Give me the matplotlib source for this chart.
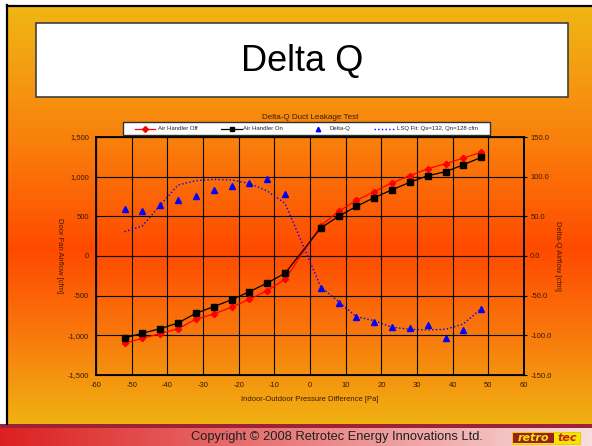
import numpy as np
import matplotlib
matplotlib.use("Agg")
import matplotlib.pyplot as plt
from matplotlib.lines import Line2D
from matplotlib.patches import Rectangle
from matplotlib.ticker import FuncFormatter, MultipleLocator

plt.rcParams["font.family"] = ["Liberation Sans", "DejaVu Sans"]
plt.rcParams["axes.unicode_minus"] = False

# pressure points [Pa]
pressure = [-52, -47, -42, -37, -32, -27, -22, -17, -12, -7,
            3, 8, 13, 18, 23, 28, 33, 38, 43, 48]
# door fan airflow [cfm]
ah_off = [-1100, -1037, -979, -916, -798, -731, -646, -546, -437, -294,
          382, 563, 702, 810, 924, 1012, 1100, 1163, 1235, 1307]
ah_on = [-1033, -974, -916, -844, -722, -639, -551, -450, -340, -218,
         353, 500, 626, 735, 835, 929, 1012, 1062, 1150, 1244]
# delta-Q airflow [cfm], right axis
delta_q = [59.6, 56.7, 64.6, 70.9, 75.6, 83.5, 88.6, 92.4, 97.4, 78.5,
           -40.7, -59.2, -76.9, -83.2, -89.8, -90.7, -86.6, -102.9, -93.6, -66.4]
lsq_fit = [30.6, 37.8, 64.0, 89.5, 94.9, 96.6, 95.8, 91.6, 81.9, 66.4,
           -38.7, -57.6, -76.5, -81.5, -89.8, -92.4, -93.2, -92.4, -85.7, -66.4]

labels = ["Air Handler Off", "Air Handler On", "Delta-Q",
          "LSQ Fit: Qs=132, Qn=128 cfm"]

W, H = 592, 446
fig = plt.figure(figsize=(W / 100, H / 100), dpi=100)

# slide background
bg = fig.add_axes([0, 0, 1, 1])
bg.set_xlim(0, W)
bg.set_ylim(H, 0)
bg.axis("off")

rows = np.arange(H)
stops_y = [8, 140, 250, 330, 420]
stops_c = np.array([[240, 182, 20], [249, 128, 12], [255, 74, 0],
                    [249, 118, 12], [240, 176, 18]]) / 255
img = np.zeros((H, W, 3))
for k in range(3):
    img[:, :, k] = np.interp(rows, stops_y, stops_c[:, k])[:, None]
cols = np.arange(W)
band_l = np.array([220, 32, 32]) / 255
band_r = np.array([248, 222, 222]) / 255
for k in range(3):
    img[428:, :, k] = np.interp(cols, [0, W], [band_l[k], band_r[k]])[None, :]
img[424:428, :, :] = np.array([158, 34, 54]) / 255
img[:5, :, :] = 1
img[:424, :6, :] = 1
bg.imshow(img, extent=[0, W, H, 0], aspect="auto", interpolation="bilinear")
bg.plot([7, 7], [5, 424], color="black", lw=1.6)
bg.plot([7, W], [6, 6], color="black", lw=1.6)

bg.add_patch(Rectangle((36, 23), 532, 74, facecolor="white",
                       edgecolor="#404040", lw=1.2))
bg.text(302, 61, "Delta Q", fontsize=26, ha="center", va="center")

bg.text(337, 437, "Copyright \u00a9 2008 Retrotec Energy Innovations Ltd.",
        fontsize=9.3, ha="center", va="center", color="#202020")
bg.add_patch(Rectangle((512, 432), 68, 12, facecolor="#F2E600",
                       edgecolor="#E8D000", lw=0.8))
bg.add_patch(Rectangle((513, 433), 41, 10, facecolor="#9A1E2A", lw=0))
bg.text(533.5, 438.3, "retro", fontsize=8, weight="bold", style="italic",
        family="DejaVu Sans", color="#F2E600", ha="center", va="center")
bg.text(567, 438.3, "tec", fontsize=8, weight="bold", style="italic",
        family="DejaVu Sans", color="#C81E1E", ha="center", va="center")

# chart
ax = fig.add_axes([96 / W, 1 - 375 / H, 428 / W, 238 / H])
ax.set_facecolor("none")
txt = "#3a1a00"

l1, = ax.plot(pressure, ah_off, color="red", lw=0.9, marker="D", ms=3.2)
l2, = ax.plot(pressure, ah_on, color="black", lw=0.9, marker="s", ms=3.8)
ax.set_xlim(-60, 60)
ax.set_ylim(-1500, 1500)
ax.xaxis.set_major_locator(MultipleLocator(10))
ax.yaxis.set_major_locator(MultipleLocator(500))
ax.yaxis.set_major_formatter(FuncFormatter(lambda v, p: f"{v:,.0f}"))
ax.grid(True, color="black", lw=0.8)
ax.set_axisbelow(True)
ax.tick_params(axis="both", length=0, labelsize=5.5, labelcolor=txt, pad=5)
for s in ax.spines.values():
    s.set_color("black")
    s.set_linewidth(1.3)
ax.set_xlabel("Indoor-Outdoor Pressure Difference [Pa]", fontsize=5.5,
              color=txt, labelpad=5)
ax.set_ylabel("Door Fan Airflow [cfm]", fontsize=5.5, color=txt,
              rotation=270, va="center")
ax.yaxis.set_label_coords(-37 / 428, 0.5)
ax.set_title("Delta-Q Duct Leakage Test", fontsize=5.8, color=txt, pad=13)

ax2 = ax.twinx()
l3, = ax2.plot(pressure, delta_q, color="blue", lw=0, marker="^", ms=4.2)
l4, = ax2.plot(pressure, lsq_fit, color="blue", lw=1.0, ls=":")
ax2.set_ylim(-150, 150)
ax2.yaxis.set_major_locator(MultipleLocator(50))
ax2.yaxis.set_major_formatter(FuncFormatter(lambda v, p: f"{v:.1f}"))
ax2.tick_params(axis="y", direction="inout", length=5, width=0.8,
                labelsize=5.5, labelcolor=txt, pad=2)
ax2.spines["right"].set_linewidth(1.3)
ax2.set_ylabel("Delta-Q Airflow [cfm]", fontsize=5.5, color=txt,
               rotation=270, va="center")
ax2.yaxis.set_label_coords(1 + 34 / 428, 0.5)

# legend box above the plot
bg.add_patch(Rectangle((122.7, 121.7), 367.3, 13.3, facecolor="white",
                       edgecolor="#303030", lw=1.0))
handles = [(135, 155, l1), (221, 242, l2), (310, 326, l3), (374, 394, l4)]
text_x = [158, 243, 329, 397]
for (x0, x1, src), tx, lab in zip(handles, text_x, labels):
    mid = (x0 + x1) / 2
    if src is l3:
        bg.add_line(Line2D([mid], [128.5], color="blue", lw=0,
                           marker="^", ms=3.2))
    else:
        bg.add_line(Line2D([x0, x1], [128.5, 128.5], color=src.get_color(),
                           lw=src.get_linewidth(), ls=src.get_linestyle()))
        if src.get_marker() not in ("None", None, ""):
            bg.add_line(Line2D([mid], [128.5], color=src.get_color(),
                               marker=src.get_marker(), ms=3.0, lw=0))
    bg.text(tx, 128.5, lab, fontsize=4.3, va="center", ha="left",
            color="#202020")

fig.savefig("out.png", dpi=100)
